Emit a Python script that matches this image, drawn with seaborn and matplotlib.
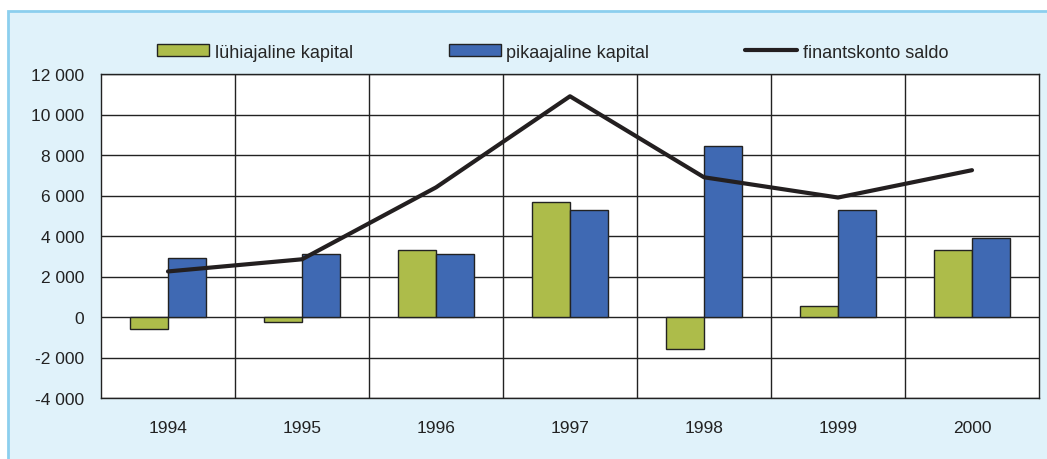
import numpy as np
import pandas as pd
import matplotlib.pyplot as plt
import seaborn as sns
from matplotlib import font_manager
from matplotlib.patches import Rectangle, Patch
from matplotlib.lines import Line2D

years = ['1994', '1995', '1996', '1997', '1998', '1999', '2000']
luhiajaline = [-600, -250, 3300, 5700, -1600, 550, 3300]
pikaajaline = [2900, 3100, 3100, 5300, 8450, 5300, 3900]
saldo = [2250, 2850, 6400, 10900, 6900, 5900, 7250]

series_names = ['lühiajaline kapital', 'pikaajaline kapital', 'finantskonto saldo']
colors = ['#adbc4a', '#3f69b3', '#231f20']
y_ticks = list(range(-4000, 12001, 2000))

df = pd.DataFrame({
    'year': years * 2,
    'value': luhiajaline + pikaajaline,
    'series': [series_names[0]] * 7 + [series_names[1]] * 7,
})

sns.set_style('white')
names = {f.name for f in font_manager.fontManager.ttflist}
narrow = 'Liberation Sans Narrow' if 'Liberation Sans Narrow' in names else 'Liberation Sans'
plt.rcParams['font.family'] = ['Liberation Sans', 'DejaVu Sans']

W, H = 1047, 460
fig = plt.figure(figsize=(W / 100, H / 100), dpi=100)
fig.patch.set_facecolor('white')
fig.patches.append(Rectangle((8 / W, -0.1), 1.1, 1.1 - 12 / H, transform=fig.transFigure,
                             facecolor='#e0f2fa', edgecolor='#8ccfee', lw=2, zorder=-5))

ax = fig.add_axes([101 / W, 61 / H, 938 / W, 324 / H])
ax.set_facecolor('white')

sns.barplot(data=df, x='year', y='value', hue='series', palette=colors[:2], saturation=1,
            width=0.57, edgecolor='#222222', linewidth=1, ax=ax, legend=False, zorder=2)
sns.lineplot(x=np.arange(len(years)), y=saldo, color=colors[2], lw=3, ax=ax, zorder=3)

ax.set_xlim(-0.5, len(years) - 0.5)
ax.set_ylim(-4000, 12000)
ax.set_yticks(y_ticks)
ax.set_yticklabels([f'{v:,}'.replace(',', ' ') for v in y_ticks], fontsize=12.5, color='#222222')
ax.set_xticks(range(len(years)))
ax.set_xticklabels(years, fontsize=12.5, color='#222222')
ax.set_xticks(np.arange(0.5, len(years) - 1), minor=True)
ax.tick_params(axis='x', which='both', length=0, pad=16)
ax.tick_params(axis='y', length=5, width=1, color='#222222', pad=7)
ax.yaxis.grid(True, color='#222222', lw=1)
ax.xaxis.grid(True, which='minor', color='#222222', lw=1)
ax.set_axisbelow(True)
ax.set_xlabel('')
ax.set_ylabel('')
for s in ax.spines.values():
    s.set_color('#222222')
    s.set_linewidth(1)

handles = [
    Patch(facecolor=colors[0], edgecolor='#222222', lw=1),
    Patch(facecolor=colors[1], edgecolor='#222222', lw=1),
    Line2D([], [], color=colors[2], lw=3),
]
fig.legend(handles, series_names, ncol=3, loc='center left',
           bbox_to_anchor=(157 / W, 1 - 53 / H), frameon=False,
           prop={'family': narrow, 'size': 13}, handlelength=2.9,
           handleheight=0.65, handletextpad=0.3, columnspacing=5.3,
           borderpad=0, borderaxespad=0)

fig.savefig('out.png', dpi=100)
